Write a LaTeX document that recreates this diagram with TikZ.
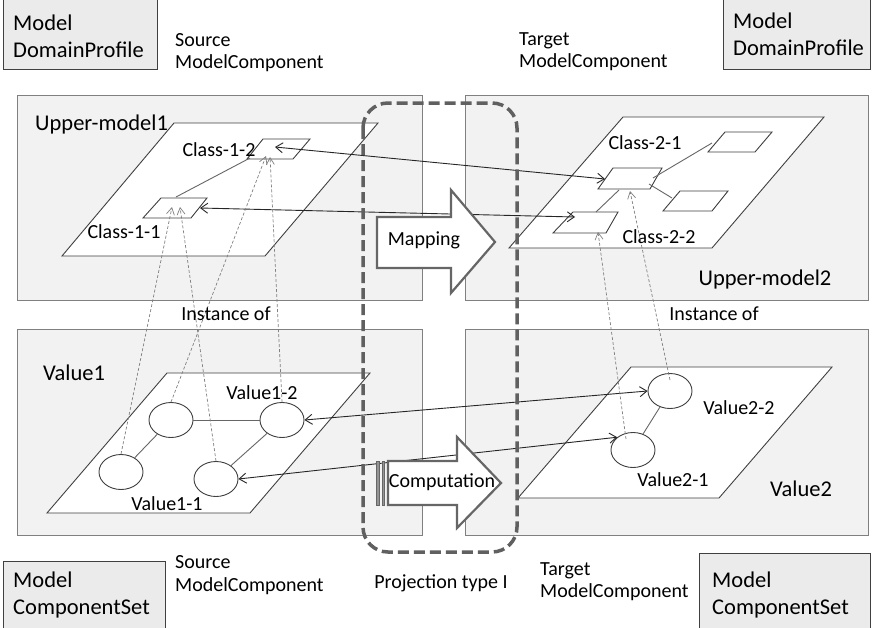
\documentclass[tikz,border=0pt]{standalone}
\usepackage{fontspec}
\setmainfont{Carlito}
\usetikzlibrary{shapes.geometric,arrows.meta}
\definecolor{panelfill}{HTML}{F2F2F2}
\definecolor{panelline}{HTML}{808080}
\definecolor{boxfill}{HTML}{EBEBEB}
\definecolor{boxline}{HTML}{404040}
\definecolor{planeline}{HTML}{404040}
\definecolor{linkgray}{HTML}{666666}
\definecolor{arrowdark}{HTML}{262626}
\definecolor{instgray}{HTML}{808080}
\definecolor{blockgray}{HTML}{666666}
\definecolor{projgray}{HTML}{606060}
\newcommand\fsBig{\fontsize{22.5}{27}\selectfont}
\newcommand\fsSmall{\fontsize{20}{24}\selectfont}
\begin{document}
\begin{tikzpicture}[x=1pt,y=-1pt,
  panel/.style={draw=panelline, fill=panelfill, line width=1pt},
  infobox/.style={draw=boxline, fill=boxfill, line width=1pt},
  plane/.style={draw=planeline, fill=white, line width=0.9pt, line join=miter},
  link/.style={draw=linkgray, line width=0.9pt},
  mapar/.style={draw=arrowdark, line width=0.9pt,
    {Straight Barb[length=7pt,width=10pt]}-{Straight Barb[length=7pt,width=10pt]}},
  inst/.style={draw=instgray, line width=0.7pt, dash pattern=on 3pt off 2pt,
    -{Straight Barb[length=7pt,width=8pt]}},
  val/.style={ellipse, draw=planeline, fill=white, minimum width=44pt,
    minimum height=35pt, inner sep=0pt, line width=0.9pt},
  blockar/.style={draw=blockgray, fill=white, line width=2.2pt, line join=miter},
  stripe/.style={draw=blockgray, fill=blockgray!70, line width=0.8pt},
  proj/.style={draw=projgray, line width=3.5pt, dash pattern=on 11pt off 5pt,
    rounded corners=25pt},
  lab/.style={inner sep=0pt, text=black, font=\fsSmall},
  biglab/.style={inner sep=0pt, text=black, font=\fsBig}]
\useasboundingbox (0,0) rectangle (876,627);
\clip (0,0) rectangle (876,627);

% corner boxes
\draw[infobox] (3,-5) rectangle (157,69);
\draw[infobox] (723,-5) rectangle (870,69);
\draw[infobox] (3,561) rectangle (165,640);
\draw[infobox] (699,553) rectangle (870,640);

% the four model panels
\draw[panel] (17,95) rectangle (422,300);
\draw[panel] (465,95) rectangle (868,300);
\draw[panel] (17,329) rectangle (422,535);
\draw[panel] (465,329) rectangle (868,535);

% planes
\draw[plane] (174,123) -- (378,123) -- (265,256) -- (62,256) -- cycle;
\draw[plane] (623,117) -- (824,117) -- (712,248) -- (509,248) -- cycle;
\draw[plane] (167,373) -- (370,373) -- (250,513) -- (47,513) -- cycle;
\draw[plane] (631,367) -- (832,367) -- (719,498) -- (518,498) -- cycle;

% class shapes, upper-model1
\draw[plane] (263,139) -- (310,139) -- (293,159) -- (247,159) -- cycle;
\draw[plane] (161,198) -- (207,198) -- (191,218) -- (143,218) -- cycle;
% class shapes, upper-model2
\draw[plane] (613,168) -- (662,168) -- (650,189) -- (598,189) -- cycle;
\draw[plane] (573,212) -- (618,212) -- (606,233) -- (553,233) -- cycle;
\draw[plane] (725,132) -- (772,132) -- (755,152) -- (708,152) -- cycle;
\draw[plane] (680,191) -- (728,191) -- (712,211) -- (663,211) -- cycle;

% connection points on the class shapes
\coordinate (c11top) at (176,197);
\coordinate (c12bl)  at (250,158);
\coordinate (c12map) at (275,147);
\coordinate (c11map) at (200,208);
\coordinate (c21map) at (605,179);
\coordinate (c22map) at (575,217);
\coordinate (c11i1)  at (172,207);
\coordinate (c11i2)  at (180,207);
\coordinate (c12i1)  at (266,156);
\coordinate (c12i2)  at (270,157);
\coordinate (c22i)   at (598,232);
\coordinate (c21i)   at (630,191);
\coordinate (c21r1)  at (653,178);
\coordinate (u1bl)   at (712,143);
\coordinate (c21r2)  at (649,184);
\coordinate (l1l)    at (672,198);
\coordinate (c22t)   at (596,212);
\coordinate (c21b)   at (619,190);
\coordinate (v21in)  at (626,439);
\coordinate (v22in)  at (670,380);

\draw[link] (c11top) -- (c12bl);
\draw[link] (c21r1) -- (u1bl);
\draw[link] (c21r2) -- (l1l);
\draw[link] (c22t) -- (c21b);

% value instances
\node[val] (v1a) at (171,420) {};
\node[val] (v1b) at (282,420) {};
\node[val] (v1c) at (121,472) {};
\node[val] (v1d) at (216,479) {};
\node[val] (v2b) at (670,391) {};
\node[val] (v2a) at (633,450) {};
\draw[link] (v1a) -- (v1b);
\draw[link] (v1a) -- (v1c);
\draw[link] (v1b) -- (v1d);
\draw[link] (v2b) -- (v2a);

% mapping and computation correspondences
\draw[mapar] (c12map) -- (c21map);
\draw[mapar] (c11map) -- (c22map);
\draw[mapar] (v1b.east) -- (v2b.west);
\draw[mapar] (v1d.east) -- (v2a.141);

% instance-of relations
\draw[inst] (v1c.north) -- (c11i1);
\draw[inst] (v1d.north) -- (c11i2);
\draw[inst] (v1a.north) -- (c12i1);
\draw[inst] (v1b.north) -- (c12i2);
\draw[inst] (v21in) -- (c22i);
\draw[inst] (v22in) -- (c21i);

% block arrows
\draw[blockar] (377,217) -- (451,217) -- (451,190) -- (495,242) -- (451,293)
  -- (451,268) -- (377,268) -- cycle;
\node[lab] (mapping) at (424,240) {Mapping};
\draw[stripe] (376,461) rectangle (379.5,505);
\draw[stripe] (382,461) rectangle (384.5,505);
\draw[blockar] (388,461) -- (457,461) -- (457,437) -- (501,483) -- (457,528)
  -- (457,505) -- (388,505) -- cycle;
\node[lab] (computation) at (442,482) {Computation};

% projection frame
\draw[proj] (363,103) rectangle (517,552);

% corner box texts
\node[biglab, anchor=base west] (dp1a) at (13,30) {Model};
\node[biglab, anchor=base west] (dp1b) at (13,57) {DomainProfile};
\node[biglab, anchor=base west] (dp2a) at (733,28) {Model};
\node[biglab, anchor=base west] (dp2b) at (733,55) {DomainProfile};
\node[biglab, anchor=base west] (cs1a) at (13,587) {Model};
\node[biglab, anchor=base west] (cs1b) at (13,614) {ComponentSet};
\node[biglab, anchor=base west] (cs2a) at (712,587) {Model};
\node[biglab, anchor=base west] (cs2b) at (712,614) {ComponentSet};

% component captions
\node[lab, anchor=base west] (st1) at (175,46) {Source};
\node[lab, anchor=base west] (st2) at (175,68) {ModelComponent};
\node[lab, anchor=base west] (tt1) at (519,45) {Target};
\node[lab, anchor=base west] (tt2) at (519,67) {ModelComponent};
\node[lab, anchor=base west] (sb1) at (175,568) {Source};
\node[lab, anchor=base west] (sb2) at (175,591) {ModelComponent};
\node[lab, anchor=base west] (tb1) at (540,575) {Target};
\node[lab, anchor=base west] (tb2) at (540,597) {ModelComponent};
\node[lab, anchor=base] (projlab) at (441,588) {Projection type I};

% panel titles
\node[biglab, anchor=west] (um1) at (35,124) {Upper-model1};
\node[biglab] (um2) at (765,279) {Upper-model2};
\node[biglab, anchor=west] (val1) at (43,373) {Value1};
\node[biglab] (val2) at (801,489) {Value2};
\node[lab] (inst1) at (226,314) {Instance of};
\node[lab] (inst2) at (714,314) {Instance of};

% class and value captions
\node[lab] (l12) at (219,150) {Class-1-2};
\node[lab] (l11) at (124,232) {Class-1-1};
\node[lab] (l21) at (645,143) {Class-2-1};
\node[lab] (l22) at (659,237) {Class-2-2};
\node[lab] (lv12) at (262,393) {Value1-2};
\node[lab] (lv11) at (167,504) {Value1-1};
\node[lab] (lv22) at (739,408) {Value2-2};
\node[lab] (lv21) at (673,480) {Value2-1};
\end{tikzpicture}
\end{document}
